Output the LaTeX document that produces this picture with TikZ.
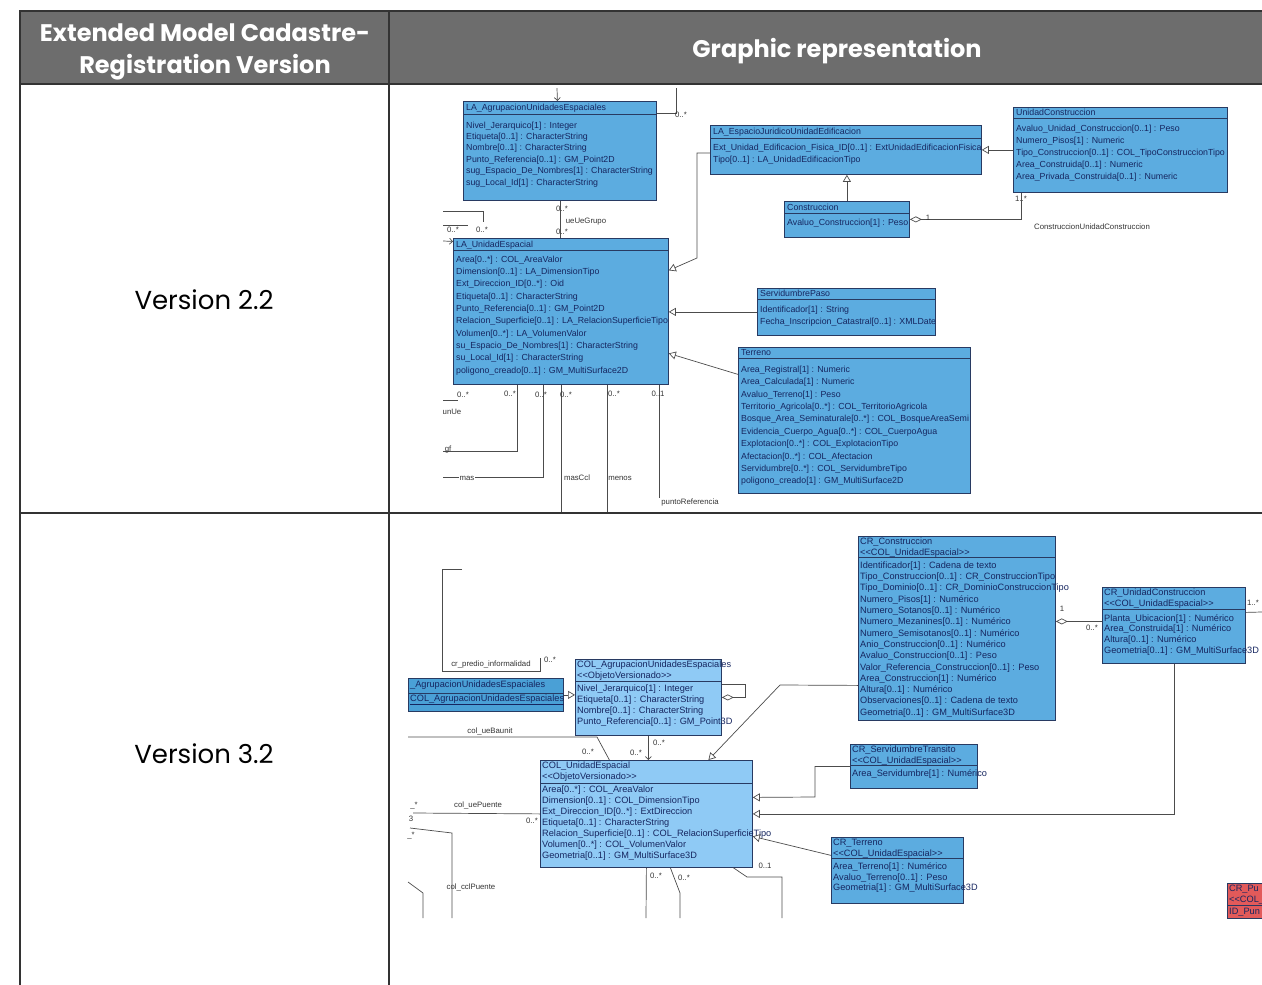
\documentclass[tikz,border=0pt]{standalone}
\usepackage{fontspec}
\setmainfont{Liberation Sans}
\newfontfamily\headfont{Poppins}
\usepackage{xcolor}
\usetikzlibrary{positioning,arrows.meta,calc}
\definecolor{hdrgray}{RGB}{109,109,109}
\definecolor{umlblue}{RGB}{92,172,224}
\definecolor{umllight}{RGB}{143,202,245}
\definecolor{umldark}{RGB}{74,160,214}
\definecolor{umlred}{RGB}{226,90,90}
\definecolor{umlline}{RGB}{40,58,98}
\definecolor{umltext}{RGB}{22,38,96}
\newcommand{\stopen}{<\kern0pt<}
\newcommand{\stclose}{>\kern0pt>}

\begin{document}
\begin{tikzpicture}[x=1pt,y=-1pt,
    cls/.style={draw=umlline,fill=umlblue,line width=0.8pt,anchor=north west,inner sep=0pt},
    clsl/.style={cls,fill=umllight},
    ttl/.style={anchor=north west,inner sep=0pt,text=umltext,align=left,font=\fontsize{8.8}{10.5}\selectfont},
    ttlb/.style={ttl,font=\fontsize{9.2}{10.5}\selectfont},
    att/.style={anchor=north west,inner sep=0pt,text=umltext,align=left,font=\fontsize{8.8}{12}\selectfont},
    attb/.style={att,font=\fontsize{9.2}{11}\selectfont},
    lnk/.style={draw=black!70,line width=0.7pt},
    gen/.style={lnk,-{Triangle[open,length=7pt,width=8pt]}},
    agg/.style={lnk,{Diamond[open,length=12pt,width=6pt]}-},
    nav/.style={lnk,-{Straight Barb[length=3pt,width=6pt]}},
    mult/.style={font=\fontsize{7.8}{8}\selectfont,text=black!80,inner sep=0.5pt},
    hdr/.style={text=white,align=center,font=\headfont\fontsize{24}{32}\selectfont\bfseries},
    ver/.style={font=\headfont\fontsize{26}{30}\selectfont}]
\useasboundingbox (0,0) rectangle (1262,985);
% cabecera de la tabla
\fill[hdrgray] (20,11) rectangle (1262,84);
\node[hdr] (h1) at (205,52) {Extended Model Cadastre-\\Registration Version};
\node[hdr] (h2) at (837,51) {Graphic representation};
\node[ver] (v22) at (204,300) {Version 2.2};
\node[ver] (v32) at (204,754) {Version 3.2};

% modelo version 2.2
\begin{scope}
\clip (443,88) rectangle (1262,511);
\node[cls,minimum width=193pt,minimum height=99pt] (agr) at (463,101) {};
\node[ttl] (agr-t) at ([xshift=3pt,yshift=-1.6pt]agr.north west) {\strut LA\_AgrupacionUnidadesEspaciales};
\draw[umlline,line width=0.8pt] ([yshift=-13pt]agr.north west) -- ([yshift=-13pt]agr.north east);
\node[att,font=\fontsize{8.8}{11.4}\selectfont] (agr-a) at ([xshift=3pt,yshift=-19pt]agr.north west) {\strut Nivel\_Jerarquico[1] : Integer\\
  Etiqueta[0..1] : CharacterString\\
  Nombre[0..1] : CharacterString\\
  Punto\_Referencia[0..1] : GM\_Point2D\\
  sug\_Espacio\_De\_Nombres[1] : CharacterString\\
  sug\_Local\_Id[1] : CharacterString};

\node[cls,minimum width=215pt,minimum height=146pt] (ue) at (453,238) {};
\node[ttl] (ue-t) at ([xshift=3pt,yshift=-1.6pt]ue.north west) {\strut LA\_UnidadEspacial};
\draw[umlline,line width=0.8pt] ([yshift=-12pt]ue.north west) -- ([yshift=-12pt]ue.north east);
\node[att,font=\fontsize{8.8}{12.3}\selectfont] (ue-a) at ([xshift=3pt,yshift=-15.5pt]ue.north west) {\strut Area[0..*] : COL\_AreaValor\\
  Dimension[0..1] : LA\_DimensionTipo\\
  Ext\_Direccion\_ID[0..*] : Oid\\
  Etiqueta[0..1] : CharacterString\\
  Punto\_Referencia[0..1] : GM\_Point2D\\
  Relacion\_Superficie[0..1] : LA\_RelacionSuperficieTipo\\
  Volumen[0..*] : LA\_VolumenValor\\
  su\_Espacio\_De\_Nombres[1] : CharacterString\\
  su\_Local\_Id[1] : CharacterString\\
  poligono\_creado[0..1] : GM\_MultiSurface2D};

\node[cls,minimum width=271pt,minimum height=49pt] (ej) at (710,125) {};
\node[ttl] (ej-t) at ([xshift=3pt,yshift=-2pt]ej.north west) {\strut LA\_EspacioJuridicoUnidadEdificacion};
\draw[umlline,line width=0.8pt] ([yshift=-13pt]ej.north west) -- ([yshift=-13pt]ej.north east);
\node[att] (ej-a) at ([xshift=3pt,yshift=-16.5pt]ej.north west) {\strut Ext\_Unidad\_Edificacion\_Fisica\_ID[0..1] : ExtUnidadEdificacionFisica\\
  Tipo[0..1] : LA\_UnidadEdificacionTipo};

\node[cls,minimum width=125pt,minimum height=36pt] (con) at (784,201) {};
\node[ttl] (con-t) at ([xshift=3pt,yshift=-1.6pt]con.north west) {\strut Construccion};
\draw[umlline,line width=0.8pt] ([yshift=-12pt]con.north west) -- ([yshift=-12pt]con.north east);
\node[att] (con-a) at ([xshift=3pt,yshift=-15.5pt]con.north west) {\strut Avaluo\_Construccion[1] : Peso};

\node[cls,minimum width=214pt,minimum height=85pt] (uc) at (1013,107) {};
\node[ttl] (uc-t) at ([xshift=3pt,yshift=-1pt]uc.north west) {\strut UnidadConstruccion};
\draw[umlline,line width=0.8pt] ([yshift=-11pt]uc.north west) -- ([yshift=-11pt]uc.north east);
\node[att] (uc-a) at ([xshift=3pt,yshift=-15.5pt]uc.north west) {\strut Avaluo\_Unidad\_Construccion[0..1] : Peso\\
  Numero\_Pisos[1] : Numeric\\
  Tipo\_Construccion[0..1] : COL\_TipoConstruccionTipo\\
  Area\_Construida[0..1] : Numeric\\
  Area\_Privada\_Construida[0..1] : Numeric};

\node[cls,minimum width=178pt,minimum height=47pt] (sp) at (757,288) {};
\node[ttl] (sp-t) at ([xshift=3pt,yshift=-1pt]sp.north west) {\strut ServidumbrePaso};
\draw[umlline,line width=0.8pt] ([yshift=-11pt]sp.north west) -- ([yshift=-11pt]sp.north east);
\node[att] (sp-a) at ([xshift=3pt,yshift=-15.5pt]sp.north west) {\strut Identificador[1] : String\\
  Fecha\_Inscripcion\_Catastral[0..1] : XMLDate};

\node[cls,minimum width=232pt,minimum height=146pt] (ter) at (738,347) {};
\node[ttl] (ter-t) at ([xshift=3pt,yshift=-1pt]ter.north west) {\strut Terreno};
\draw[umlline,line width=0.8pt] ([yshift=-11pt]ter.north west) -- ([yshift=-11pt]ter.north east);
\node[att,font=\fontsize{8.8}{12.4}\selectfont] (ter-a) at ([xshift=3pt,yshift=-16.5pt]ter.north west) {\strut Area\_Registral[1] : Numeric\\
  Area\_Calculada[1] : Numeric\\
  Avaluo\_Terreno[1] : Peso\\
  Territorio\_Agricola[0..*] : COL\_TerritorioAgricola\\
  Bosque\_Area\_Seminaturale[0..*] : COL\_BosqueAreaSemi\\
  Evidencia\_Cuerpo\_Agua[0..*] : COL\_CuerpoAgua\\
  Explotacion[0..*] : COL\_ExplotacionTipo\\
  Afectacion[0..*] : COL\_Afectacion\\
  Servidumbre[0..*] : COL\_ServidumbreTipo\\
  poligono\_creado[1] : GM\_MultiSurface2D};

% relaciones 2.2
\draw[gen] ([yshift=-3pt]ej.west) -| (697,258) -- ([yshift=41pt]ue.east);
\draw[gen] (sp.west) -- (sp.west -| ue.east);
\draw[gen] ([yshift=46pt]ter.west) -- ([yshift=-42pt]ue.east);
\draw[gen] (uc.west) -- (ej.east);
\draw[gen] (con.north) -- (con.north |- ej.south);
\draw[agg] (con.east) -| ([xshift=8pt]uc.south west);
\draw[lnk] (agr.south) -- (agr.south |- ue.north);
\coordinate (t1) at (557,88);
\coordinate (t2) at (676,88);
\coordinate (t3) at (443,211);
\coordinate (t3e) at (483,222);
\coordinate (t4) at (443,225);
\coordinate (t4e) at (468,225);
\coordinate (t5) at (443,241);
\coordinate (t6) at (443,400);
\coordinate (t6e) at (458,400);
\coordinate (t7) at (443,451);
\coordinate (t8) at (443,477);
\draw[nav] (t1) -- ([xshift=-2.5pt]agr.north);
\draw[lnk] (t2) |- ([yshift=37.5pt]agr.east);
\draw[lnk] (t3) -| (t3e);
\draw[lnk] (t4) -- (t4e);
\draw[nav] (t5) -- ([yshift=70pt]ue.west);
\draw[lnk] (t6) -- (t6e);
\draw[lnk] ([xshift=-43.5pt]ue.south) |- (t7);
\draw[lnk] ([xshift=-17.5pt]ue.south) |- (t8);
\foreach \dx/\len in {0.5/127,46.5/127,98.5/113}
  \draw[lnk] ([xshift=\dx pt]ue.south) -- ++(0,\len);
% multiplicidades y roles 2.2
\foreach \x/\y/\t [count=\i] in {562/209/0..*, 562/232/0..*, 586/222/ueUeGrupo, 681/115/0..*,
    453/230/0..*, 482/230/0..*, 463/395/0..*, 510/394/0..*, 541/395/0..*, 566/395/0..*,
    614/394/0..*, 658/394/0..1, 452/412/unUe, 448/449/gf, 577/478/masCcl, 620/478/menos,
    690/502/puntoReferencia, 928/218/1, 1021/199/1..*, 1092/227/ConstruccionUnidadConstruccion}
  \node[mult] (m\i) at (\x,\y) {\t};
\node[mult,fill=white] (mas) at (467,478) {mas};
\end{scope}

% modelo version 3.2
\begin{scope}
\clip (405,515) rectangle (1262,985);
\node[cls,fill=umldark,minimum width=155pt,minimum height=33pt] (ag3) at (408,678) {};
\node[ttlb] (ag3-t) at ([xshift=2pt,yshift=-1.5pt]ag3.north west) {\strut \_AgrupacionUnidadesEspaciales};
\draw[umlline,line width=0.8pt] ([yshift=-15pt]ag3.north west) -- ([yshift=-15pt]ag3.north east);
\node[ttlb] (ag3-a) at ([xshift=2pt,yshift=-15.5pt]ag3.north west) {\strut \underline{COL\_AgrupacionUnidadesEspaciales}};

\node[clsl,minimum width=146pt,minimum height=76pt] (cag) at (575,659) {};
\node[ttlb] (cag-t) at ([xshift=2pt,yshift=-1pt]cag.north west) {\strut COL\_AgrupacionUnidadesEspaciales\\ \stopen ObjetoVersionado\stclose};
\draw[umlline,line width=0.8pt] ([yshift=-22pt]cag.north west) -- ([yshift=-22pt]cag.north east);
\node[attb] (cag-a) at ([xshift=2pt,yshift=-24.3pt]cag.north west) {\strut Nivel\_Jerarquico[1] : Integer\\
  Etiqueta[0..1] : CharacterString\\
  Nombre[0..1] : CharacterString\\
  Punto\_Referencia[0..1] : GM\_Point3D};

\node[clsl,minimum width=212pt,minimum height=107pt] (cue) at (540,760) {};
\node[ttlb] (cue-t) at ([xshift=2pt,yshift=-1pt]cue.north west) {\strut COL\_UnidadEspacial\\ \stopen ObjetoVersionado\stclose};
\draw[umlline,line width=0.8pt] ([yshift=-23pt]cue.north west) -- ([yshift=-23pt]cue.north east);
\node[attb] (cue-a) at ([xshift=2pt,yshift=-24.5pt]cue.north west) {\strut Area[0..*] : COL\_AreaValor\\
  Dimension[0..1] : COL\_DimensionTipo\\
  Ext\_Direccion\_ID[0..*] : ExtDireccion\\
  Etiqueta[0..1] : CharacterString\\
  Relacion\_Superficie[0..1] : COL\_RelacionSuperficieTipo\\
  Volumen[0..*] : COL\_VolumenValor\\
  Geometria[0..1] : GM\_MultiSurface3D};

\node[cls,minimum width=197pt,minimum height=184pt] (crc) at (858,536) {};
\node[ttlb] (crc-t) at ([xshift=2pt,yshift=-1pt]crc.north west) {\strut CR\_Construccion\\ \stopen COL\_UnidadEspacial\stclose};
\draw[umlline,line width=0.8pt] ([yshift=-21pt]crc.north west) -- ([yshift=-21pt]crc.north east);
\node[attb,font=\fontsize{9.2}{11.3}\selectfont] (crc-a) at ([xshift=2pt,yshift=-24.2pt]crc.north west) {\strut Identificador[1] : Cadena de texto\\
  Tipo\_Construccion[0..1] : CR\_ConstruccionTipo\\
  Tipo\_Dominio[0..1] : CR\_DominioConstruccionTipo\\
  Numero\_Pisos[1] : Numérico\\
  Numero\_Sotanos[0..1] : Numérico\\
  Numero\_Mezanines[0..1] : Numérico\\
  Numero\_Semisotanos[0..1] : Numérico\\
  Anio\_Construccion[0..1] : Numérico\\
  Avaluo\_Construccion[0..1] : Peso\\
  Valor\_Referencia\_Construccion[0..1] : Peso\\
  Area\_Construccion[1] : Numérico\\
  Altura[0..1] : Numérico\\
  Observaciones[0..1] : Cadena de texto\\
  Geometria[0..1] : GM\_MultiSurface3D};

\node[cls,minimum width=143pt,minimum height=76pt] (cruc) at (1102,587) {};
\node[ttlb] (cruc-t) at ([xshift=2pt,yshift=-1pt]cruc.north west) {\strut CR\_UnidadConstruccion\\ \stopen COL\_UnidadEspacial\stclose};
\draw[umlline,line width=0.8pt] ([yshift=-22pt]cruc.north west) -- ([yshift=-22pt]cruc.north east);
\node[attb,font=\fontsize{9.2}{10.7}\selectfont] (cruc-a) at ([xshift=2pt,yshift=-26.5pt]cruc.north west) {\strut Planta\_Ubicacion[1] : Numérico\\
  Area\_Construida[1] : Numérico\\
  Altura[0..1] : Numérico\\
  Geometria[0..1] : GM\_MultiSurface3D};

\node[cls,minimum width=127pt,minimum height=44pt] (crs) at (850,744) {};
\node[ttlb] (crs-t) at ([xshift=2pt,yshift=-1pt]crs.north west) {\strut CR\_ServidumbreTransito\\ \stopen COL\_UnidadEspacial\stclose};
\draw[umlline,line width=0.8pt] ([yshift=-21pt]crs.north west) -- ([yshift=-21pt]crs.north east);
\node[attb] (crs-a) at ([xshift=2pt,yshift=-24.3pt]crs.north west) {\strut Area\_Servidumbre[1] : Numérico};

\node[cls,minimum width=132pt,minimum height=66pt] (crt) at (831,837) {};
\node[ttlb] (crt-t) at ([xshift=2pt,yshift=-1pt]crt.north west) {\strut CR\_Terreno\\ \stopen COL\_UnidadEspacial\stclose};
\draw[umlline,line width=0.8pt] ([yshift=-21pt]crt.north west) -- ([yshift=-21pt]crt.north east);
\node[attb,font=\fontsize{9.2}{10.5}\selectfont] (crt-a) at ([xshift=2pt,yshift=-25.3pt]crt.north west) {\strut Area\_Terreno[1] : Numérico\\
  Avaluo\_Terreno[0..1] : Peso\\
  Geometria[1] : GM\_MultiSurface3D};

\node[cls,fill=umlred,minimum width=45pt,minimum height=35pt] (crp) at (1227,883) {};
\node[ttlb] (crp-t) at ([xshift=2pt,yshift=-1pt]crp.north west) {\strut CR\_Pu\\ \stopen COL\_};
\draw[umlline,line width=0.8pt] ([yshift=-22pt]crp.north west) -- ([yshift=-22pt]crp.north east);
\node[attb] (crp-a) at ([xshift=2pt,yshift=-23.5pt]crp.north west) {\strut ID\_Pun};

% relaciones 3.2
\draw[gen] (ag3.east) -- (ag3.east -| cag.west);
\draw[agg] (cag.east) -- ++(24,0) |- ([yshift=13pt]cag.east);
\draw[nav] (cag.south) -- (cag.south |- cue.north);
\draw[gen] ([yshift=-57pt]crc.west) -- (780,685) -- ([xshift=62pt]cue.north);
\draw[gen] (crs.west) -| (815,797) -- ([yshift=16.5pt]cue.east);
\draw[gen] (cruc.south) |- (cue.east);
\draw[gen] ([yshift=15pt]crt.west) -- ([yshift=-22.5pt]cue.east);
\draw[agg] ([yshift=7pt]crc.east) -- ([yshift=4pt]cruc.west);
\coordinate (b1) at (462,569);
\coordinate (b2) at (540,658);
\coordinate (b3) at (408,737);
\coordinate (b4) at (413,813);
\coordinate (b5) at (410,828);
\coordinate (b5e) at (452,918);
\coordinate (b6) at (408,882);
\coordinate (b6e) at (423,918);
\coordinate (b7) at (646,918);
\coordinate (b8) at (680,918);
\coordinate (b9) at (782,918);
\coordinate (b10) at (1262,612);
\draw[lnk] (b1) -| (442,671) -| (b2);
\draw[lnk] (b3) -- (597,737) -- ([xshift=-37pt]cue.north);
\draw[lnk] (b4) -- (cue.west);
\draw[lnk] (b5) -- (452,833) -- (b5e);
\draw[lnk] (b6) -- (423,893) -- (b6e);
\draw[lnk] (cue.south) -- (b7);
\draw[lnk] ([xshift=24pt]cue.south) -- (680,893) -- (b8);
\draw[lnk] ([xshift=87pt]cue.south) -- (747,877) -| (b9);
\draw[lnk] ([yshift=13pt]cruc.east) -- (b10);
% multiplicidades y roles 3.2
\foreach \x/\y/\t [count=\i] in {491/664/cr\_predio\_informalidad, 550/660/0..*, 490/731/col\_ueBaunit,
    588/752/0..*, 636/753/0..*, 659/743/0..*, 478/805/col\_uePuente, 532/821/0..*,
    414/806/\_*, 411/819/3, 411/836/\_*, 471/887/col\_cclPuente, 656/876/0..*, 684/878/0..*,
    765/866/0..1, 1062/609/1, 1092/628/0..*, 1253/603/1..*}
  \node[mult] (n\i) at (\x,\y) {\t};
\end{scope}

% lineas de la tabla
\draw[black!80,line width=2.5pt] (1262,11) -- (20,11) -- (20,985);
\draw[black!80,line width=2.5pt] (20,84) -- (1262,84);
\draw[black!80,line width=2.5pt] (389,11) -- (389,985);
\draw[black!80,line width=2.5pt] (20,513) -- (1262,513);
\end{tikzpicture}
\end{document}
